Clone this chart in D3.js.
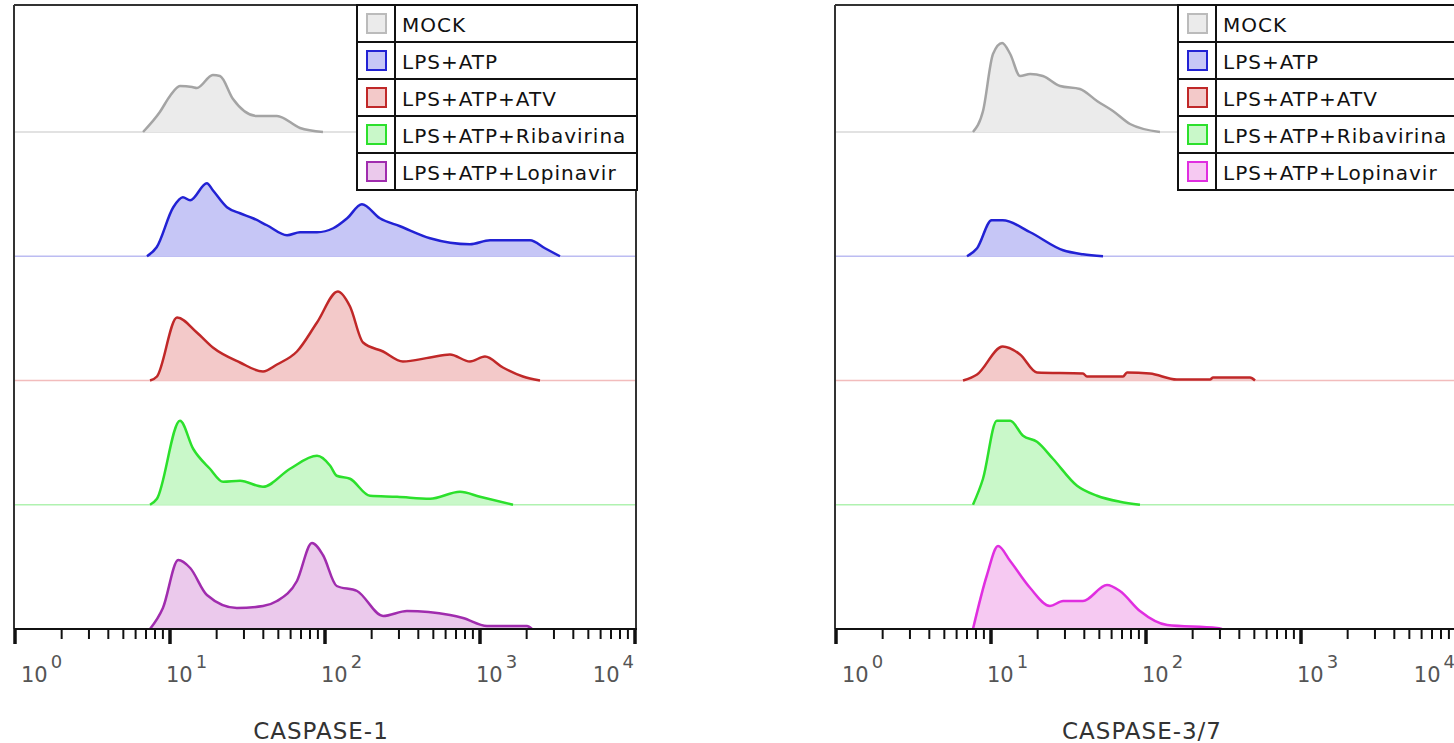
<!DOCTYPE html>
<html>
<head>
<meta charset="utf-8">
<script src="https://cdn.jsdelivr.net/npm/d3@7"></script>
<style>
  body { margin: 0; background: #fff; }
  svg { display: block; font-family: "DejaVu Sans", sans-serif; }
</style>
</head>
<body>
<svg id="chart" width="1454" height="743"></svg>
<script>
// condition names (rows, top to bottom) and axis
const conditions = ["MOCK", "LPS+ATP", "LPS+ATP+ATV", "LPS+ATP+Ribavirina", "LPS+ATP+Lopinavir"];
const decades = [1, 10, 100, 1000, 10000];
const superscripts = ["0", "1", "2", "3", "4"];
const axisTitles = ["CASPASE-1", "CASPASE-3/7"];

// histograms as [intensity, count]
const casp1Mock = [[6.7,0],[8.6,20],[10,36],[11.6,46],[13.9,45],[14.9,44],[18.9,57],[21,56],[25.5,33],[36.4,16],[49,16],[69,4],[97,0]];
const casp1Atp = [[7.1,0],[8.2,9],[10.5,49],[12.1,59],[13.5,56],[17.3,73],[18.9,66],[23.3,49],[28.3,43],[34.3,38],[42.2,31],[56.9,21],[69,24],[88.8,24],[113,28],[139,38],[173,52],[226,38],[305,30],[476,18],[861,12],[1161,16],[2103,16],[2625,8],[3281,0]];
const casp1Atv = [[7.43,0],[8.24,4],[11.1,63],[14.9,48],[18.9,33],[28.3,18],[39.8,9],[49,16],[65.9,29],[88.8,58],[121,89],[145,74],[176,38],[237,29],[318,19],[476,23],[640,26],[861,19],[1077,24],[1406,13],[1892,4],[2438,0]];
const casp1Riba = [[7.43,0],[8.24,6],[11.6,84],[14.1,56],[18.1,36],[22,23],[28.3,24],[39.8,18],[59.5,36],[88.8,49],[108,39],[119,29],[145,26],[195,9],[292,8],[476,6],[743,13],[1000,8],[1633,0]];
const casp1Lopi = [[7.43,0],[9,21],[11.3,69],[13.5,61],[17.3,34],[27,21],[39.8,23],[49,28],[65.9,48],[82.4,86],[97,74],[119,43],[161,38],[237,13],[338,18],[640,14],[777,11],[1110,3],[2010,3],[2163,0]];

const casp37Mock = [[7.65,0],[8.88,21],[10.3,78],[11.8,89],[13.3,78],[15.4,56],[17.9,58],[21.6,56],[27.9,46],[37.5,43],[48.3,31],[61.2,21],[78.9,8],[123,0]];
const casp37Atp = [[7,0],[8.13,8],[10.1,36],[11.9,36],[17.9,24],[29.2,6],[39.2,2],[52.8,0]];
const casp37Atv = [[6.6,0],[8.13,6],[11.9,34],[15.4,26],[19.8,8],[39.2,7],[41.6,4],[71.1,4],[75.4,8],[106,7],[158,1],[259,1],[271,3],[469,3],[505,0]];
const casp37Riba = [[7.65,0],[8.88,26],[10.9,84],[13.3,84],[16.1,69],[19.8,63],[25.1,46],[35.9,19],[48.3,9],[67.9,3],[91.4,0]];
const casp37Lopi = [[7.65,0],[9.42,54],[11.1,83],[13.3,68],[17.9,41],[24,23],[29.2,28],[39.2,28],[56,44],[67.9,38],[91.4,18],[137,4],[287,1],[309,0]];

// styles
const strokeLeft = ["#a4a4a4", "#2222d4", "#c02828", "#2ce02c", "#a02cae"];
const strokeRight = ["#a4a4a4", "#2222d4", "#c02828", "#2ce02c", "#e02ee0"];
const fillLeft = ["#ebebeb", "#c6c6f6", "#f3c9c9", "#c9f8c9", "#ebc9ec"];
const fillRight = ["#ebebeb", "#c6c6f6", "#f3c9c9", "#c9f8c9", "#f6c9f2"];
const baseColors = ["#d8d8d8", "#bcbcf2", "#f2bcbc", "#b0f2b0", "#000"];

const panels = [
  { x0: 15, series: [casp1Mock, casp1Atp, casp1Atv, casp1Riba, casp1Lopi], stroke: strokeLeft, fill: fillLeft, title: axisTitles[0] },
  { x0: 836, series: [casp37Mock, casp37Atp, casp37Atv, casp37Riba, casp37Lopi], stroke: strokeRight, fill: fillRight, title: axisTitles[1] }
];

const topY = 5;
const firstBase = 132;
const rowH = 124.25;
const axisY = firstBase + rowH * 4;
const panelW = 620;

const svg = d3.select("#chart");

panels.forEach(p => {
  const g = svg.append("g");
  const x = d3.scaleLog().domain([1, 10000]).range([p.x0, p.x0 + panelW]);
  const h = d3.scaleLinear().domain([0, 125]).range([0, 125]);

  // rows
  p.series.forEach((data, i) => {
    const base = firstBase + rowH * i;
    if (i < 4) {
      g.append("line")
        .attr("x1", p.x0).attr("x2", p.x0 + panelW)
        .attr("y1", base).attr("y2", base)
        .attr("stroke", baseColors[i]).attr("stroke-width", 1.5);
    }
    const area = d3.area()
      .x(d => x(d[0]))
      .y0(base)
      .y1(d => base - h(d[1]))
      .curve(d3.curveMonotoneX);
    const line = d3.line()
      .x(d => x(d[0]))
      .y(d => base - h(d[1]))
      .curve(d3.curveMonotoneX);
    g.append("path").attr("d", area(data)).attr("fill", p.fill[i]);
    g.append("path").attr("d", line(data))
      .attr("fill", "none").attr("stroke", p.stroke[i])
      .attr("stroke-width", 2.5).attr("stroke-linejoin", "round");
  });

  // frame
  g.append("line").attr("x1", p.x0 - 1).attr("x2", p.x0 + panelW + 1).attr("y1", topY).attr("y2", topY)
    .attr("stroke", "#333").attr("stroke-width", 2);
  g.append("line").attr("x1", p.x0 - 1).attr("x2", p.x0 - 1).attr("y1", topY).attr("y2", axisY)
    .attr("stroke", "#333").attr("stroke-width", 2);
  g.append("line").attr("x1", p.x0 + panelW + 1).attr("x2", p.x0 + panelW + 1).attr("y1", topY).attr("y2", axisY)
    .attr("stroke", "#333").attr("stroke-width", 2);

  // axis
  const axisG = g.append("g").attr("transform", `translate(0,${axisY})`);
  axisG.append("line").attr("x1", p.x0 - 1).attr("x2", p.x0 + panelW + 2)
    .attr("stroke", "#111").attr("stroke-width", 2);
  const minor = [];
  decades.slice(0, 4).forEach(d => { for (let k = 2; k <= 9; k++) minor.push(d * k); });
  axisG.selectAll(".minor").data(minor).enter().append("line")
    .attr("x1", d => x(d)).attr("x2", d => x(d))
    .attr("y1", 0).attr("y2", 10)
    .attr("stroke", "#111").attr("stroke-width", 2);
  axisG.selectAll(".major").data(decades).enter().append("line")
    .attr("x1", d => x(d)).attr("x2", d => x(d))
    .attr("y1", 0).attr("y2", 15)
    .attr("stroke", "#111").attr("stroke-width", 3.5);

  const lab = g.selectAll(".tick-label").data(decades).enter().append("text")
    .attr("x", (d, i) => i === 0 ? x(d) + 6 : i === 4 ? x(d) - 1 : x(d) - 4)
    .attr("y", axisY + 53)
    .attr("text-anchor", (d, i) => i === 4 ? "end" : "start")
    .attr("fill", "#555")
    .style("font-size", "21px");
  lab.append("tspan").text("10");
  lab.append("tspan").attr("dx", 3).attr("dy", -14).style("font-size", "18px")
    .text((d, i) => superscripts[i]);

  g.append("text")
    .attr("x", x(100) - 4).attr("y", 739)
    .attr("text-anchor", "middle")
    .attr("fill", "#333")
    .style("font-size", "23px").style("letter-spacing", "1px")
    .text(p.title);

  // legend
  const lx = p.x0 + 342, lw = 280, lr = 37, sw = 38;
  const leg = g.append("g");
  leg.append("rect").attr("x", lx).attr("y", topY).attr("width", lw).attr("height", lr * 5)
    .attr("fill", "#fff").attr("stroke", "#111").attr("stroke-width", 2);
  leg.append("line").attr("x1", lx + sw).attr("x2", lx + sw).attr("y1", topY).attr("y2", topY + lr * 5)
    .attr("stroke", "#111").attr("stroke-width", 2);
  conditions.forEach((c, i) => {
    const ry = topY + lr * i;
    if (i > 0) {
      leg.append("line").attr("x1", lx).attr("x2", lx + lw).attr("y1", ry).attr("y2", ry)
        .attr("stroke", "#111").attr("stroke-width", 2);
    }
    leg.append("rect").attr("x", lx + 10).attr("y", ry + 9).attr("width", 19).attr("height", 19)
      .attr("fill", p.fill[i]).attr("stroke", i === 0 ? "#bbb" : p.stroke[i]).attr("stroke-width", 2);
    leg.append("text").attr("x", lx + sw + 7).attr("y", ry + 27)
      .attr("fill", "#111").style("font-size", "20px").style("letter-spacing", "1px")
      .text(c);
  });
});
</script>
</body>
</html>
